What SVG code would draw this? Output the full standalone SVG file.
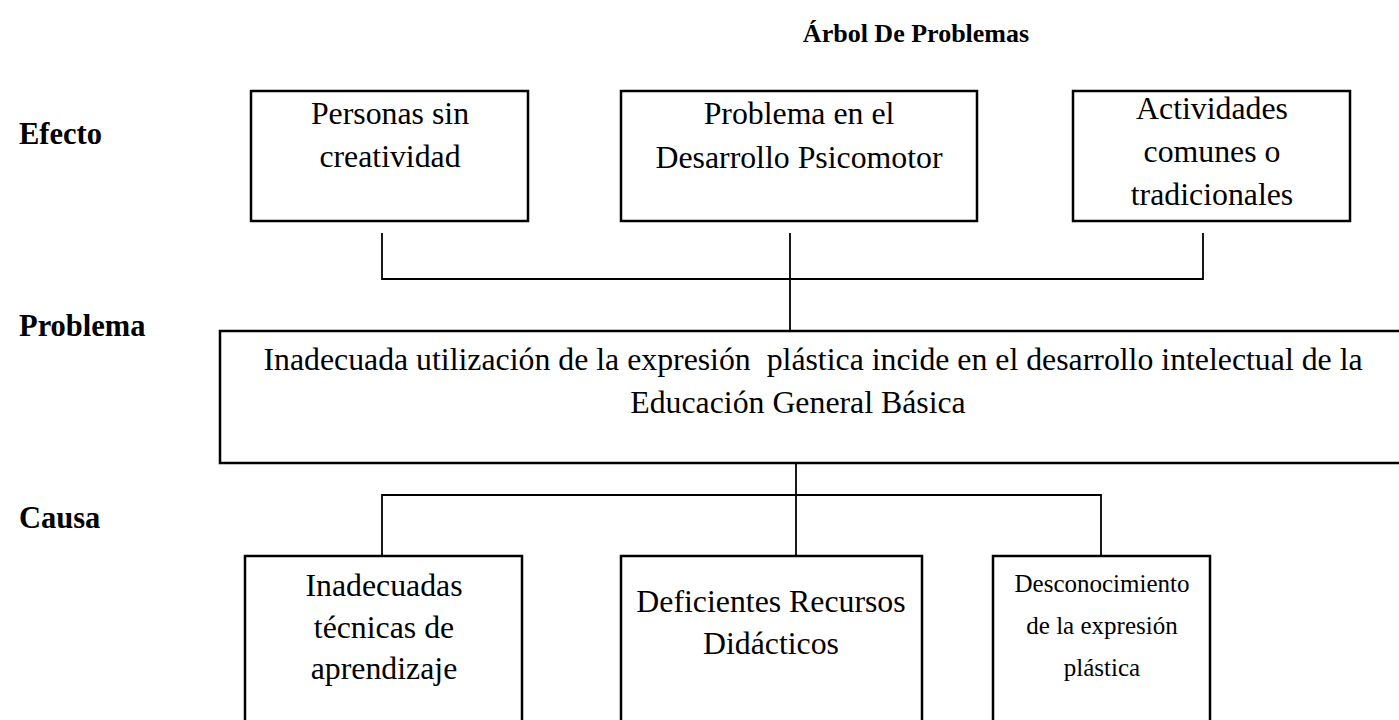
<svg xmlns="http://www.w3.org/2000/svg" width="1399" height="720" viewBox="0 0 1399 720">
<style>
.box{fill:#fff;stroke:#000;stroke-width:2.5}
.t{font-family:"Liberation Serif","Times New Roman",serif;font-size:31.8px;fill:#000;text-anchor:middle}
.s{font-size:25px}
.b{font-family:"Liberation Serif","Times New Roman",serif;font-weight:bold;font-size:30.5px;fill:#000}
.c{fill:none;stroke:#000;stroke-width:1.8}
</style>
<rect width="1399" height="720" fill="#fff"/>
<text class="b" x="916" y="42" text-anchor="middle" style="font-size:26px">Árbol De Problemas</text>
<g id="labels">
<text class="b" x="19" y="144">Efecto</text>
<text class="b" x="19" y="336">Problema</text>
<text class="b" x="19" y="528">Causa</text>
</g>
<g id="connectors">
<polyline class="c" points="382,233 382,279 1203,279 1203,233"/>
<line class="c" x1="790" y1="233" x2="790" y2="330"/>
<line class="c" x1="796" y1="435" x2="796" y2="556"/>
<polyline class="c" points="382,556 382,495 1101,495 1101,556"/>
</g>
<g id="effect1">
<rect class="box" x="251" y="91" width="277" height="130"/>
<text class="t" x="390" y="124">Personas sin</text>
<text class="t" x="390" y="167">creatividad</text>
</g>
<g id="effect2">
<rect class="box" x="621" y="91" width="356" height="130"/>
<text class="t" x="799" y="124">Problema en el</text>
<text class="t" x="799" y="168">Desarrollo Psicomotor</text>
</g>
<g id="effect3">
<rect class="box" x="1073" y="91" width="277" height="130"/>
<text class="t" x="1212" y="119">Actividades</text>
<text class="t" x="1212" y="162">comunes o</text>
<text class="t" x="1212" y="205">tradicionales</text>
</g>
<g id="problem">
<rect class="box" x="220" y="331" width="1190" height="132"/>
<text class="t" x="813" y="370" xml:space="preserve">Inadecuada utilización de la expresión  plástica incide en el desarrollo intelectual de la</text>
<text class="t" x="798" y="413">Educación General Básica</text>
</g>
<g id="cause1">
<rect class="box" x="245" y="556" width="277" height="180"/>
<text class="t" x="384" y="596">Inadecuadas</text>
<text class="t" x="384" y="638">técnicas de</text>
<text class="t" x="384" y="679">aprendizaje</text>
</g>
<g id="cause2">
<rect class="box" x="621" y="556" width="301" height="180"/>
<text class="t" x="771" y="612">Deficientes Recursos</text>
<text class="t" x="771" y="654">Didácticos</text>
</g>
<g id="cause3">
<rect class="box" x="993" y="556" width="217" height="180"/>
<text class="t s" x="1102" y="592">Desconocimiento</text>
<text class="t s" x="1102" y="634">de la expresión</text>
<text class="t s" x="1102" y="676">plástica</text>
</g>
</svg>
